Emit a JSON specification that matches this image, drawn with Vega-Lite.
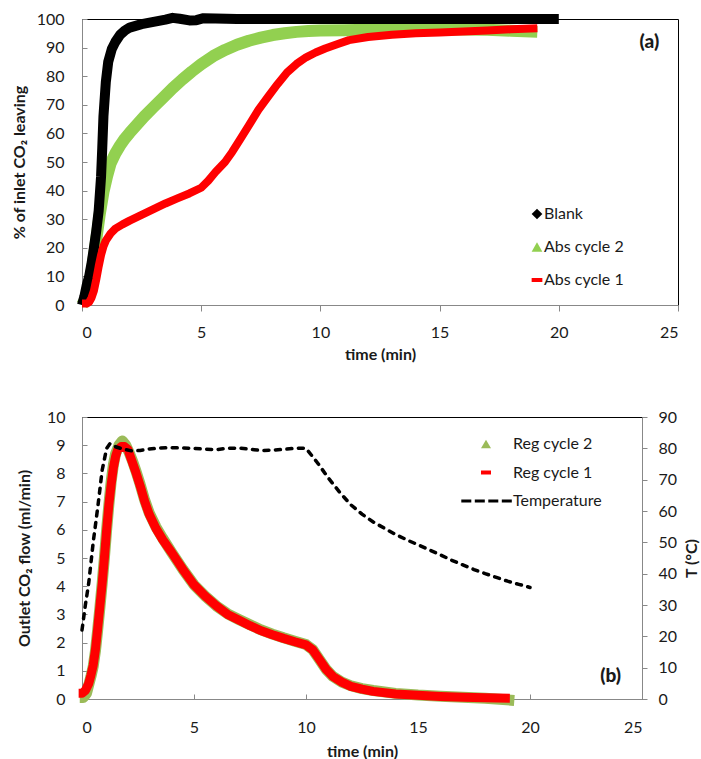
{
  "$schema": "https://vega.github.io/schema/vega-lite/v6.json",
  "padding": {"left": 10, "top": 10, "right": 5, "bottom": 0},
  "spacing": 45,
  "datasets": {
    "top": [
      {"s":"Blank","t":0,"v":0},{"s":"Blank","t":0.1,"v":3},{"s":"Blank","t":0.2,"v":7},{"s":"Blank","t":0.3,"v":10},{"s":"Blank","t":0.4,"v":14.5},{"s":"Blank","t":0.5,"v":20},{"s":"Blank","t":0.6,"v":26},{"s":"Blank","t":0.7,"v":33},{"s":"Blank","t":0.8,"v":45},{"s":"Blank","t":0.85,"v":55},{"s":"Blank","t":0.9,"v":66},{"s":"Blank","t":1.0,"v":78},{"s":"Blank","t":1.1,"v":85},{"s":"Blank","t":1.25,"v":89.5},{"s":"Blank","t":1.4,"v":92},{"s":"Blank","t":1.6,"v":94.5},{"s":"Blank","t":1.8,"v":96},{"s":"Blank","t":2.0,"v":97},{"s":"Blank","t":2.5,"v":98.2},{"s":"Blank","t":3.0,"v":99},{"s":"Blank","t":3.5,"v":99.8},{"s":"Blank","t":3.8,"v":100.4},{"s":"Blank","t":4.1,"v":100.1},{"s":"Blank","t":4.5,"v":99.5},{"s":"Blank","t":4.8,"v":99.6},{"s":"Blank","t":5.1,"v":100.3},{"s":"Blank","t":5.6,"v":100.2},{"s":"Blank","t":6.5,"v":100},{"s":"Blank","t":8,"v":100},{"s":"Blank","t":10,"v":100},{"s":"Blank","t":12,"v":100},{"s":"Blank","t":14,"v":100},{"s":"Blank","t":16,"v":100},{"s":"Blank","t":18,"v":100},{"s":"Blank","t":20,"v":100},
      {"s":"Abs cycle 2","t":0,"v":0},{"s":"Abs cycle 2","t":0.15,"v":2},{"s":"Abs cycle 2","t":0.3,"v":7},{"s":"Abs cycle 2","t":0.45,"v":14},{"s":"Abs cycle 2","t":0.6,"v":23},{"s":"Abs cycle 2","t":0.75,"v":32},{"s":"Abs cycle 2","t":0.9,"v":39.5},{"s":"Abs cycle 2","t":1.05,"v":45},{"s":"Abs cycle 2","t":1.2,"v":49.5},{"s":"Abs cycle 2","t":1.4,"v":53},{"s":"Abs cycle 2","t":1.6,"v":55.8},{"s":"Abs cycle 2","t":1.8,"v":58.2},{"s":"Abs cycle 2","t":2.0,"v":60.2},{"s":"Abs cycle 2","t":2.3,"v":63},{"s":"Abs cycle 2","t":2.6,"v":65.8},{"s":"Abs cycle 2","t":3.0,"v":69.2},{"s":"Abs cycle 2","t":3.4,"v":72.5},{"s":"Abs cycle 2","t":3.8,"v":75.8},{"s":"Abs cycle 2","t":4.2,"v":78.8},{"s":"Abs cycle 2","t":4.6,"v":81.6},{"s":"Abs cycle 2","t":5.0,"v":84.2},{"s":"Abs cycle 2","t":5.5,"v":87},{"s":"Abs cycle 2","t":6.0,"v":89.2},{"s":"Abs cycle 2","t":6.5,"v":91},{"s":"Abs cycle 2","t":7.0,"v":92.4},{"s":"Abs cycle 2","t":7.5,"v":93.5},{"s":"Abs cycle 2","t":8.0,"v":94.4},{"s":"Abs cycle 2","t":8.5,"v":95},{"s":"Abs cycle 2","t":9.0,"v":95.5},{"s":"Abs cycle 2","t":9.5,"v":95.8},{"s":"Abs cycle 2","t":10,"v":96},{"s":"Abs cycle 2","t":11,"v":96.1},{"s":"Abs cycle 2","t":12,"v":96.2},{"s":"Abs cycle 2","t":13,"v":96.3},{"s":"Abs cycle 2","t":14,"v":96.4},{"s":"Abs cycle 2","t":15,"v":96.4},{"s":"Abs cycle 2","t":16,"v":96.3},{"s":"Abs cycle 2","t":17,"v":96.2},{"s":"Abs cycle 2","t":18,"v":95.9},{"s":"Abs cycle 2","t":19.1,"v":95.5},
      {"s":"Abs cycle 1","t":0,"v":0.5},{"s":"Abs cycle 1","t":0.2,"v":0.5},{"s":"Abs cycle 1","t":0.3,"v":1},{"s":"Abs cycle 1","t":0.4,"v":2.5},{"s":"Abs cycle 1","t":0.5,"v":5},{"s":"Abs cycle 1","t":0.6,"v":9},{"s":"Abs cycle 1","t":0.7,"v":13.5},{"s":"Abs cycle 1","t":0.8,"v":17.5},{"s":"Abs cycle 1","t":0.9,"v":20.5},{"s":"Abs cycle 1","t":1.0,"v":22.5},{"s":"Abs cycle 1","t":1.2,"v":25},{"s":"Abs cycle 1","t":1.4,"v":26.7},{"s":"Abs cycle 1","t":1.7,"v":28.2},{"s":"Abs cycle 1","t":2.0,"v":29.5},{"s":"Abs cycle 1","t":2.5,"v":31.5},{"s":"Abs cycle 1","t":3.0,"v":33.5},{"s":"Abs cycle 1","t":3.5,"v":35.5},{"s":"Abs cycle 1","t":4.0,"v":37.3},{"s":"Abs cycle 1","t":4.5,"v":39},{"s":"Abs cycle 1","t":5.0,"v":41},{"s":"Abs cycle 1","t":5.3,"v":43.5},{"s":"Abs cycle 1","t":5.6,"v":46.5},{"s":"Abs cycle 1","t":6.0,"v":50},{"s":"Abs cycle 1","t":6.3,"v":53.5},{"s":"Abs cycle 1","t":6.6,"v":57.5},{"s":"Abs cycle 1","t":7.0,"v":62.8},{"s":"Abs cycle 1","t":7.4,"v":68.2},{"s":"Abs cycle 1","t":7.8,"v":72.8},{"s":"Abs cycle 1","t":8.2,"v":77.2},{"s":"Abs cycle 1","t":8.6,"v":81.3},{"s":"Abs cycle 1","t":9.0,"v":84.3},{"s":"Abs cycle 1","t":9.4,"v":86.6},{"s":"Abs cycle 1","t":9.8,"v":88.3},{"s":"Abs cycle 1","t":10.2,"v":89.7},{"s":"Abs cycle 1","t":10.7,"v":91.2},{"s":"Abs cycle 1","t":11.2,"v":92.6},{"s":"Abs cycle 1","t":12,"v":93.7},{"s":"Abs cycle 1","t":13,"v":94.5},{"s":"Abs cycle 1","t":14,"v":95},{"s":"Abs cycle 1","t":15,"v":95.3},{"s":"Abs cycle 1","t":16,"v":95.6},{"s":"Abs cycle 1","t":17,"v":96},{"s":"Abs cycle 1","t":18,"v":96.4},{"s":"Abs cycle 1","t":19.1,"v":96.8}
    ],
    "bottom": [
      {"s":"Reg cycle 2","t":-0.1,"v":0.05},{"s":"Reg cycle 2","t":0.05,"v":0.05},{"s":"Reg cycle 2","t":0.2,"v":0.2},{"s":"Reg cycle 2","t":0.3,"v":0.5},{"s":"Reg cycle 2","t":0.4,"v":0.8},{"s":"Reg cycle 2","t":0.5,"v":1.15},{"s":"Reg cycle 2","t":0.6,"v":1.7},{"s":"Reg cycle 2","t":0.7,"v":2.45},{"s":"Reg cycle 2","t":0.8,"v":3.25},{"s":"Reg cycle 2","t":0.9,"v":4.1},{"s":"Reg cycle 2","t":1.0,"v":5.0},{"s":"Reg cycle 2","t":1.1,"v":6.0},{"s":"Reg cycle 2","t":1.2,"v":6.9},{"s":"Reg cycle 2","t":1.3,"v":7.7},{"s":"Reg cycle 2","t":1.4,"v":8.3},{"s":"Reg cycle 2","t":1.5,"v":8.7},{"s":"Reg cycle 2","t":1.65,"v":9.0},{"s":"Reg cycle 2","t":1.8,"v":9.15},{"s":"Reg cycle 2","t":1.95,"v":9.0},{"s":"Reg cycle 2","t":2.1,"v":8.75},{"s":"Reg cycle 2","t":2.25,"v":8.45},{"s":"Reg cycle 2","t":2.4,"v":8.1},{"s":"Reg cycle 2","t":2.6,"v":7.6},{"s":"Reg cycle 2","t":2.8,"v":7.05},{"s":"Reg cycle 2","t":3.0,"v":6.6},{"s":"Reg cycle 2","t":3.3,"v":6.1},{"s":"Reg cycle 2","t":3.6,"v":5.7},{"s":"Reg cycle 2","t":4.0,"v":5.2},{"s":"Reg cycle 2","t":4.5,"v":4.6},{"s":"Reg cycle 2","t":5.0,"v":4.05},{"s":"Reg cycle 2","t":5.5,"v":3.65},{"s":"Reg cycle 2","t":6.0,"v":3.3},{"s":"Reg cycle 2","t":6.5,"v":3.02},{"s":"Reg cycle 2","t":7.0,"v":2.82},{"s":"Reg cycle 2","t":7.5,"v":2.63},{"s":"Reg cycle 2","t":8.0,"v":2.45},{"s":"Reg cycle 2","t":8.5,"v":2.3},{"s":"Reg cycle 2","t":9.0,"v":2.17},{"s":"Reg cycle 2","t":9.5,"v":2.05},{"s":"Reg cycle 2","t":10.0,"v":1.93},{"s":"Reg cycle 2","t":10.3,"v":1.75},{"s":"Reg cycle 2","t":10.6,"v":1.4},{"s":"Reg cycle 2","t":10.9,"v":1.05},{"s":"Reg cycle 2","t":11.2,"v":0.8},{"s":"Reg cycle 2","t":11.6,"v":0.6},{"s":"Reg cycle 2","t":12.0,"v":0.47},{"s":"Reg cycle 2","t":12.5,"v":0.37},{"s":"Reg cycle 2","t":13.0,"v":0.3},{"s":"Reg cycle 2","t":14.0,"v":0.2},{"s":"Reg cycle 2","t":15.0,"v":0.14},{"s":"Reg cycle 2","t":16.0,"v":0.1},{"s":"Reg cycle 2","t":17.0,"v":0.06},{"s":"Reg cycle 2","t":18.0,"v":0.03},{"s":"Reg cycle 2","t":19.3,"v":-0.05},
      {"s":"Reg cycle 1","t":-0.15,"v":0.2},{"s":"Reg cycle 1","t":0,"v":0.2},{"s":"Reg cycle 1","t":0.15,"v":0.3},{"s":"Reg cycle 1","t":0.3,"v":0.55},{"s":"Reg cycle 1","t":0.4,"v":0.85},{"s":"Reg cycle 1","t":0.5,"v":1.2},{"s":"Reg cycle 1","t":0.6,"v":1.75},{"s":"Reg cycle 1","t":0.7,"v":2.5},{"s":"Reg cycle 1","t":0.8,"v":3.3},{"s":"Reg cycle 1","t":0.9,"v":4.1},{"s":"Reg cycle 1","t":1.0,"v":5.0},{"s":"Reg cycle 1","t":1.1,"v":6.0},{"s":"Reg cycle 1","t":1.2,"v":6.9},{"s":"Reg cycle 1","t":1.3,"v":7.6},{"s":"Reg cycle 1","t":1.4,"v":8.2},{"s":"Reg cycle 1","t":1.5,"v":8.6},{"s":"Reg cycle 1","t":1.6,"v":8.85},{"s":"Reg cycle 1","t":1.75,"v":8.95},{"s":"Reg cycle 1","t":1.9,"v":8.95},{"s":"Reg cycle 1","t":2.05,"v":8.85},{"s":"Reg cycle 1","t":2.2,"v":8.5},{"s":"Reg cycle 1","t":2.4,"v":8.05},{"s":"Reg cycle 1","t":2.6,"v":7.55},{"s":"Reg cycle 1","t":2.8,"v":7.0},{"s":"Reg cycle 1","t":3.0,"v":6.55},{"s":"Reg cycle 1","t":3.3,"v":6.05},{"s":"Reg cycle 1","t":3.6,"v":5.65},{"s":"Reg cycle 1","t":4.0,"v":5.2},{"s":"Reg cycle 1","t":4.5,"v":4.6},{"s":"Reg cycle 1","t":5.0,"v":4.05},{"s":"Reg cycle 1","t":5.5,"v":3.65},{"s":"Reg cycle 1","t":6.0,"v":3.3},{"s":"Reg cycle 1","t":6.5,"v":3.0},{"s":"Reg cycle 1","t":7.0,"v":2.8},{"s":"Reg cycle 1","t":7.5,"v":2.6},{"s":"Reg cycle 1","t":8.0,"v":2.42},{"s":"Reg cycle 1","t":8.5,"v":2.28},{"s":"Reg cycle 1","t":9.0,"v":2.15},{"s":"Reg cycle 1","t":9.5,"v":2.03},{"s":"Reg cycle 1","t":10.0,"v":1.92},{"s":"Reg cycle 1","t":10.3,"v":1.74},{"s":"Reg cycle 1","t":10.6,"v":1.4},{"s":"Reg cycle 1","t":10.9,"v":1.05},{"s":"Reg cycle 1","t":11.2,"v":0.8},{"s":"Reg cycle 1","t":11.6,"v":0.6},{"s":"Reg cycle 1","t":12.0,"v":0.45},{"s":"Reg cycle 1","t":12.5,"v":0.35},{"s":"Reg cycle 1","t":13.0,"v":0.27},{"s":"Reg cycle 1","t":14.0,"v":0.18},{"s":"Reg cycle 1","t":15.0,"v":0.13},{"s":"Reg cycle 1","t":16.0,"v":0.09},{"s":"Reg cycle 1","t":17.0,"v":0.06},{"s":"Reg cycle 1","t":18.0,"v":0.04},{"s":"Reg cycle 1","t":19.1,"v":0.03},
      {"s":"Temperature","t":0,"v":22},{"s":"Temperature","t":0.15,"v":30},{"s":"Temperature","t":0.3,"v":37},{"s":"Temperature","t":0.5,"v":50},{"s":"Temperature","t":0.7,"v":61},{"s":"Temperature","t":0.9,"v":73},{"s":"Temperature","t":1.1,"v":80},{"s":"Temperature","t":1.25,"v":81.5},{"s":"Temperature","t":1.5,"v":80.5},{"s":"Temperature","t":1.8,"v":79.8},{"s":"Temperature","t":2.2,"v":79.2},{"s":"Temperature","t":2.6,"v":79.3},{"s":"Temperature","t":3.0,"v":79.8},{"s":"Temperature","t":3.5,"v":80.1},{"s":"Temperature","t":4.0,"v":80.2},{"s":"Temperature","t":4.5,"v":80.1},{"s":"Temperature","t":5.0,"v":80.0},{"s":"Temperature","t":5.5,"v":79.7},{"s":"Temperature","t":6.0,"v":79.6},{"s":"Temperature","t":6.5,"v":80.0},{"s":"Temperature","t":7.0,"v":80.1},{"s":"Temperature","t":7.5,"v":79.7},{"s":"Temperature","t":8.0,"v":79.3},{"s":"Temperature","t":8.5,"v":79.4},{"s":"Temperature","t":9.0,"v":79.7},{"s":"Temperature","t":9.5,"v":80.0},{"s":"Temperature","t":10.0,"v":80.0},{"s":"Temperature","t":10.5,"v":75.5},{"s":"Temperature","t":11.0,"v":70.5},{"s":"Temperature","t":11.5,"v":66},{"s":"Temperature","t":12.0,"v":62},{"s":"Temperature","t":12.5,"v":59},{"s":"Temperature","t":13.0,"v":56.5},{"s":"Temperature","t":13.5,"v":54.5},{"s":"Temperature","t":14.0,"v":52.5},{"s":"Temperature","t":14.5,"v":50.8},{"s":"Temperature","t":15.0,"v":49.2},{"s":"Temperature","t":15.5,"v":47.6},{"s":"Temperature","t":16.0,"v":46.0},{"s":"Temperature","t":16.5,"v":44.3},{"s":"Temperature","t":17.0,"v":42.8},{"s":"Temperature","t":17.5,"v":41.3},{"s":"Temperature","t":18.0,"v":40.0},{"s":"Temperature","t":18.5,"v":38.8},{"s":"Temperature","t":19.0,"v":37.6},{"s":"Temperature","t":19.5,"v":36.6},{"s":"Temperature","t":20.0,"v":35.6}
    ]
  },
  "vconcat": [
    {
      "width": 596,
      "height": 286,
      "data": {"name": "top"},
      "encoding": {
        "x": {"field": "t", "type": "quantitative", "scale": {"domain": [0, 25], "nice": false, "zero": false},
              "axis": {"values": [0, 5, 10, 15, 20, 25], "title": "time (min)", "tickSize": 6, "labelPadding": 13, "titlePadding": 6}},
        "y": {"field": "v", "type": "quantitative", "scale": {"domain": [0, 100], "nice": false},
              "axis": {"values": [0, 10, 20, 30, 40, 50, 60, 70, 80, 90, 100], "title": "% of inlet CO₂ leaving", "tickSize": -5, "labelPadding": 23, "titlePadding": 9}}
      },
      "layer": [
        {"transform": [{"filter": "datum.s == 'Abs cycle 2'"}], "mark": {"type": "line", "color": "#92D050", "strokeWidth": 12, "strokeJoin": "round"}},
        {"transform": [{"filter": "datum.s == 'Blank'"}], "mark": {"type": "line", "color": "#000000", "strokeWidth": 10, "strokeJoin": "round"}},
        {"transform": [{"filter": "datum.s == 'Abs cycle 1'"}], "mark": {"type": "line", "color": "#FF0000", "strokeWidth": 8, "strokeJoin": "round"}},
        {"mark": {"type": "point", "filled": true, "opacity": 0},
         "encoding": {
           "color": {"field": "s", "type": "nominal", "scale": {"domain": ["Blank", "Abs cycle 2", "Abs cycle 1"], "range": ["#000000", "#92D050", "#FF0000"]},
                     "legend": {"orient": "none", "legendX": 447, "legendY": 187, "title": null, "symbolSize": 115, "labelOffset": -1, "rowPadding": 17}},
           "shape": {"field": "s", "type": "nominal", "scale": {"domain": ["Blank", "Abs cycle 2", "Abs cycle 1"], "range": ["diamond", "triangle-up", "M-1,-0.37H1V0.37H-1Z"]},
                     "legend": {"orient": "none", "legendX": 447, "legendY": 187, "title": null, "symbolSize": 115, "labelOffset": -1, "rowPadding": 17}}
         }},
        {"transform": [{"filter": "datum.s == 'Blank' && datum.t == 20"}],
         "mark": {"type": "text", "text": "(a)", "font": "Lato", "fontWeight": 900, "fontSize": 19, "fill": "#1a1a1a", "opacity": 1},
         "encoding": {"x": {"datum": 23.8}, "y": {"datum": 92}}}
      ]
    },
    {
      "width": 560,
      "height": 282,
      "data": {"name": "bottom"},
      "layer": [
        {
          "encoding": {
            "x": {"field": "t", "type": "quantitative", "scale": {"domain": [0, 25], "nice": false, "zero": false},
                  "axis": {"values": [0, 5, 10, 15, 20, 25], "title": "time (min)", "tickSize": -5, "labelPadding": 25, "titlePadding": 8}},
            "y": {"field": "v", "type": "quantitative", "scale": {"domain": [0, 10], "nice": false},
                  "axis": {"values": [0, 1, 2, 3, 4, 5, 6, 7, 8, 9, 10], "title": "Outlet CO₂ flow (ml/min)", "tickSize": -5, "labelPadding": 22, "titlePadding": 14}}
          },
          "layer": [
            {"transform": [{"filter": "datum.s == 'Reg cycle 2'"}], "mark": {"type": "line", "color": "#9BBB59", "strokeWidth": 11, "strokeJoin": "round"}},
            {"transform": [{"filter": "datum.s == 'Reg cycle 1'"}], "mark": {"type": "line", "color": "#FF0000", "strokeWidth": 9, "strokeJoin": "round"}},
            {"transform": [{"filter": "datum.s != 'Temperature'"}],
             "mark": {"type": "point", "filled": true, "opacity": 0},
             "encoding": {
               "color": {"field": "s", "type": "nominal", "scale": {"domain": ["Reg cycle 2", "Reg cycle 1", "Temperature"], "range": ["#9BBB59", "#FF0000", "#000000"]},
                         "legend": {"orient": "none", "legendX": 396, "legendY": 19, "title": null, "symbolSize": 100, "labelOffset": 19, "rowPadding": 12.5}},
               "shape": {"field": "s", "type": "nominal", "scale": {"domain": ["Reg cycle 2", "Reg cycle 1", "Temperature"], "range": ["triangle-up", "M-1,-0.4H1V0.4H-1Z", "M-4.94,-0.32H-2.94V0.32H-4.94Z M-2.24,-0.32H-0.24V0.32H-2.24Z M0.46,-0.32H2.46V0.32H0.46Z M3.16,-0.32H5.16V0.32H3.16Z"]},
                         "legend": {"orient": "none", "legendX": 396, "legendY": 19, "title": null, "symbolSize": 100, "labelOffset": 19, "rowPadding": 12.5}}
             }},
            {"transform": [{"filter": "datum.s == 'Reg cycle 1' && datum.t == 19.1"}],
             "mark": {"type": "text", "text": "(b)", "font": "Lato", "fontWeight": 900, "fontSize": 19, "fill": "#1a1a1a", "opacity": 1},
             "encoding": {"x": {"datum": 23.6}, "y": {"datum": 0.8}}}
          ]
        },
        {
          "transform": [{"filter": "datum.s == 'Temperature'"}],
          "mark": {"type": "line", "color": "#000000", "strokeWidth": 3.5, "strokeDash": [5, 6.5], "strokeCap": "round"},
          "encoding": {
            "x": {"field": "t", "type": "quantitative", "scale": {"domain": [0, 25], "nice": false, "zero": false},
                  "axis": {"values": [0, 5, 10, 15, 20, 25], "title": "time (min)", "tickSize": -5, "labelPadding": 25, "titlePadding": 8}},
            "y": {"field": "v", "type": "quantitative", "scale": {"domain": [0, 90], "nice": false},
                  "axis": {"orient": "right", "values": [0, 10, 20, 30, 40, 50, 60, 70, 80, 90], "title": "T (°C)", "titleAngle": 270, "titleBaseline": "top", "tickSize": 5, "labelPadding": 11, "titlePadding": 7}}
          }
        }
      ],
      "resolve": {"scale": {"y": "independent"}}
    }
  ],
  "resolve": {"scale": {"color": "independent", "shape": "independent", "x": "independent"}},
  "config": {
    "font": "Lato",
    "view": {"stroke": "#000000", "strokeWidth": 1},
    "axis": {"grid": false, "domainColor": "#888888", "tickColor": "#888888", "labelColor": "#1a1a1a", "labelFont": "Lato", "labelFontSize": 16, "titleFont": "Lato", "titleFontSize": 16, "titleFontWeight": "bold", "titleColor": "#1a1a1a"},
    "legend": {"labelFont": "Lato", "labelFontSize": 16, "labelColor": "#1a1a1a", "symbolOpacity": 1, "symbolStrokeWidth": 0, "padding": 0}
  }
}
